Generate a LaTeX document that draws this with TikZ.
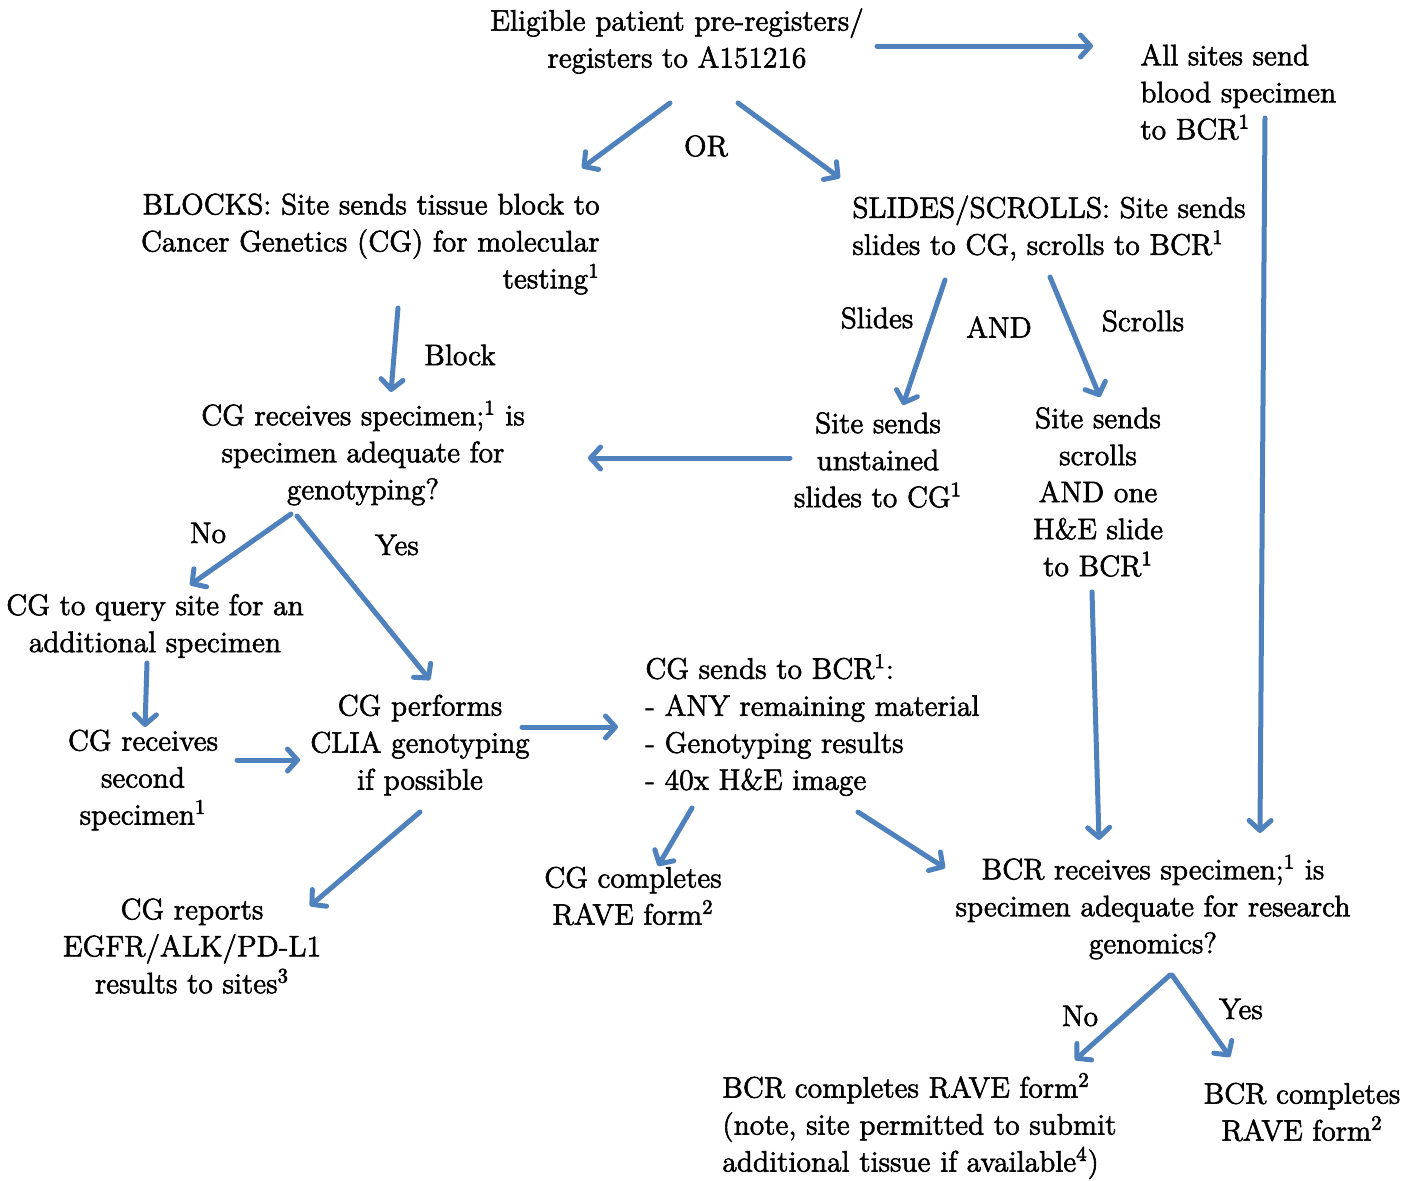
\documentclass[tikz,border=0pt]{standalone}
\usepackage{fix-cm}
\usetikzlibrary{arrows.meta}
\definecolor{arrblue}{RGB}{79,129,189}
\newcommand{\heavytext}{\special{pdf:literal direct 2 Tr 0.3 w}}
\tikzset{
  txt/.style={inner sep=0pt, font=\fontsize{14.8}{18.5}\selectfont\heavytext, align=center},
  lbl/.style={inner sep=0pt, font=\fontsize{14.8}{18.5}\selectfont\heavytext},
  arr/.style={draw=arrblue, line width=2.5pt, line cap=round, line join=round,
    -{Straight Barb[length=5pt,width=11pt,line cap=round,line join=round]}}
}
\newcommand{\sps}[1]{\textsuperscript{#1}}
\begin{document}
\begin{tikzpicture}[x=0.5pt,y=-0.5pt]
\useasboundingbox (0,0) rectangle (1420,1180);
% nodes
\node[txt] (reg) at (677,41) {Eligible patient pre-registers/\\registers to A151216};
\node[txt,align=left,anchor=west] (allsites) at (1140,92) {All sites send\\blood specimen\\to BCR\sps{1}};
\node[lbl] (or) at (706,146) {OR};
\node[txt,align=right,anchor=east] (blocks) at (600,244) {BLOCKS: Site sends tissue block to\\Cancer Genetics (CG) for molecular\\testing\sps{1}};
\node[txt,align=left,anchor=west] (slides) at (852,228) {SLIDES/SCROLLS: Site sends\\slides to CG, scrolls to BCR\sps{1}};
\node[lbl] (blocklbl) at (460,355) {Block};
\node[txt] (cgrec) at (363,453) {CG receives specimen;\sps{1} is\\specimen adequate for\\genotyping?};
\node[lbl] (slideslbl) at (877,318) {Slides};
\node[lbl] (andlbl) at (999,327) {AND};
\node[lbl] (scrollslbl) at (1143,321) {Scrolls};
\node[txt] (unst) at (878,460) {Site sends\\unstained\\slides to CG\sps{1}};
\node[txt] (scrolls) at (1098,492) {Site sends\\scrolls\\AND one\\H\&E slide\\to BCR\sps{1}};
\node[lbl] (nolbl) at (208,533) {No};
\node[lbl] (yeslbl) at (397,545) {Yes};
\node[txt] (query) at (155,626) {CG to query site for an\\additional specimen};
\node[txt] (perform) at (420,745) {CG performs\\CLIA genotyping\\if possible};
\node[txt] (second) at (143,780) {CG receives\\second\\specimen\sps{1}};
\node[txt,align=left,anchor=west] (sends) at (645,725) {CG sends to BCR\sps{1}:\\- ANY remaining material\\- Genotyping results\\- 40x H\&E image};
\node[txt] (cgrave) at (633,896) {CG completes\\RAVE form\sps{2}};
\node[txt] (reports) at (192,946) {CG reports\\EGFR/ALK/PD-L1\\results to sites\sps{3}};
\node[txt] (bcrrec) at (1153,907) {BCR receives specimen;\sps{1} is\\specimen adequate for research\\genomics?};
\node[lbl] (nolbl2) at (1080,1016) {No};
\node[lbl] (yeslbl2) at (1241,1009) {Yes};
\node[txt,align=left,anchor=west] (bcrno) at (722,1126) {BCR completes RAVE form\sps{2}\\(note, site permitted to submit\\additional tissue if available\sps{4})};
\node[txt] (bcryes) at (1302,1112) {BCR completes\\RAVE form\sps{2}};
% arrow end coordinates
\coordinate (a1s) at (877,46);   \coordinate (a1e) at (1093,46);
\coordinate (a2s) at (670,103);  \coordinate (a2e) at (582,168);
\coordinate (a3s) at (738,103);  \coordinate (a3e) at (840,178);
\coordinate (a4s) at (1265,118); \coordinate (a4e) at (1260,833);
\coordinate (a5s) at (398,308);  \coordinate (a5e) at (391,392);
\coordinate (a6s) at (945,280);  \coordinate (a6e) at (903,405);
\coordinate (a7s) at (1050,277); \coordinate (a7e) at (1100,397);
\coordinate (a8s) at (790,458);  \coordinate (a8e) at (588,458);
\coordinate (a9s) at (291,514);  \coordinate (a9e) at (190,585);
\coordinate (a10s) at (297,516); \coordinate (a10e) at (430,680);
\coordinate (a11s) at (147,663); \coordinate (a11e) at (145,727);
\coordinate (a12s) at (237,760); \coordinate (a12e) at (300,760);
\coordinate (a13s) at (522,727); \coordinate (a13e) at (618,727);
\coordinate (a14s) at (1092,592);\coordinate (a14e) at (1099,840);
\coordinate (a15s) at (420,812); \coordinate (a15e) at (310,906);
\coordinate (a16s) at (692,808); \coordinate (a16e) at (658,866);
\coordinate (a17s) at (858,812); \coordinate (a17e) at (945,868);
\coordinate (a18s) at (1170,975);\coordinate (a18e) at (1075,1060);
\coordinate (a19s) at (1172,975);\coordinate (a19e) at (1230,1057);
% arrows
\draw[arr] (a1s) -- (a1e);
\draw[arr] (a2s) -- (a2e);
\draw[arr] (a3s) -- (a3e);
\draw[arr] (a4s) -- (a4e);
\draw[arr] (a5s) -- (a5e);
\draw[arr] (a6s) -- (a6e);
\draw[arr] (a7s) -- (a7e);
\draw[arr] (a8s) -- (a8e);
\draw[arr] (a9s) -- (a9e);
\draw[arr] (a10s) -- (a10e);
\draw[arr] (a11s) -- (a11e);
\draw[arr] (a12s) -- (a12e);
\draw[arr] (a13s) -- (a13e);
\draw[arr] (a14s) -- (a14e);
\draw[arr] (a15s) -- (a15e);
\draw[arr] (a16s) -- (a16e);
\draw[arr] (a17s) -- (a17e);
\draw[arr] (a18s) -- (a18e);
\draw[arr] (a19s) -- (a19e);
\end{tikzpicture}
\end{document}
